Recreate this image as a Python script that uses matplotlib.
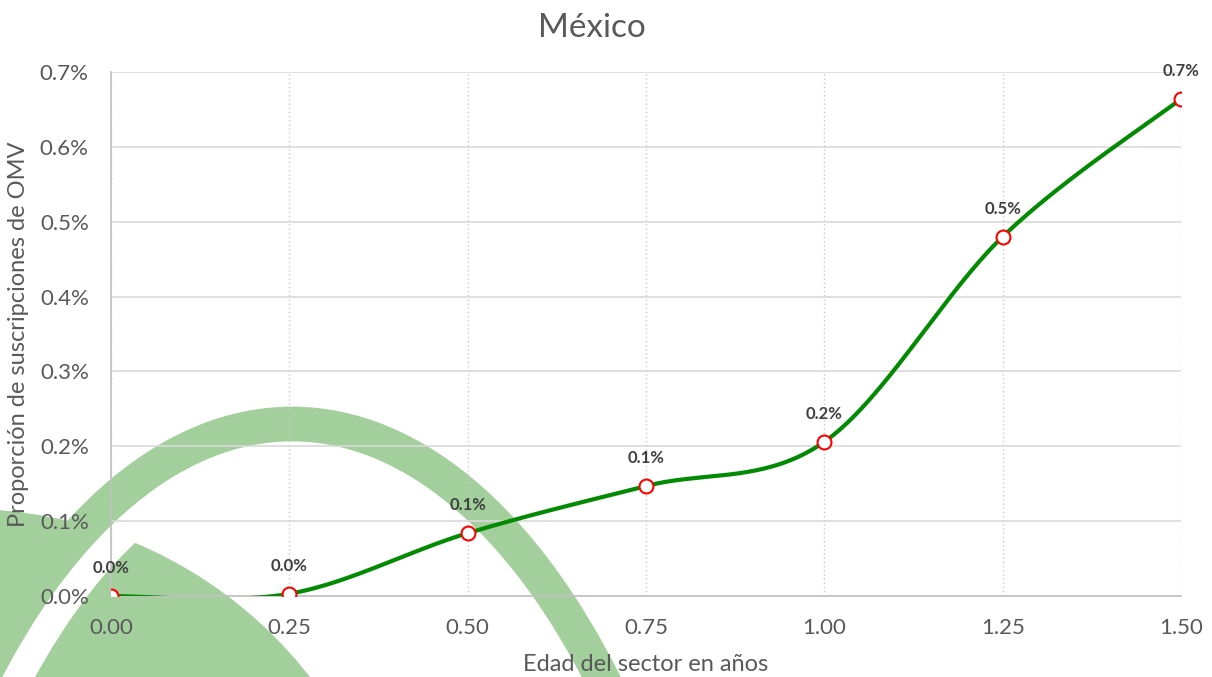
import numpy as np
import matplotlib
matplotlib.use("Agg")
import matplotlib.pyplot as plt
from matplotlib.patches import Circle, Ellipse
from matplotlib.ticker import FuncFormatter

# data (values in percent)
edad = [0.00, 0.25, 0.50, 0.75, 1.00, 1.25, 1.50]
proporcion = [0.000, 0.003, 0.084, 0.147, 0.206, 0.480, 0.664]
x_ticks = [0.00, 0.25, 0.50, 0.75, 1.00, 1.25, 1.50]
y_ticks = [0.0, 0.1, 0.2, 0.3, 0.4, 0.5, 0.6, 0.7]

plt.rcParams['font.family'] = ['Lato', 'DejaVu Sans']
GREY = '#595959'
WM = '#a3cf9c'


def smooth(xs, ys, n=40):
    # excel-like smoothed line: catmull-rom as cubic bezier segments
    p = np.column_stack([xs, ys]).astype(float)
    pts = []
    for i in range(len(p) - 1):
        p0 = p[i - 1] if i > 0 else p[i]
        p3 = p[i + 2] if i + 2 < len(p) else p[i + 1]
        c1 = p[i] + (p[i + 1] - p0) / 6
        c2 = p[i + 1] - (p3 - p[i]) / 6
        t = np.linspace(0, 1, n)[:, None]
        seg = ((1 - t) ** 3) * p[i] + 3 * ((1 - t) ** 2) * t * c1 + 3 * (1 - t) * t ** 2 * c2 + t ** 3 * p[i + 1]
        pts.append(seg if i == 0 else seg[1:])
    pts = np.vstack(pts)
    return pts[:, 0], pts[:, 1]


fig = plt.figure(figsize=(12.12, 6.77), dpi=100)

# watermark in pixel coordinates behind the chart
bg = fig.add_axes([0, 0, 1, 1], zorder=0)
bg.set_xlim(0, 1212)
bg.set_ylim(677, 0)
bg.axis('off')
bg.add_patch(Circle((-33, 943), 434, color=WM, lw=0))
bg.add_patch(Ellipse((292, 1324), 2 * 412, 2 * 867, fill=False, ec='white', lw=22))
bg.add_patch(Ellipse((292, 1324), 2 * 445, 2 * 900, fill=False, ec=WM, lw=25))

ax = fig.add_axes([0.0916, 0.1196, 0.8828, 0.774], zorder=1)
ax.set_facecolor('none')

sx, sy = smooth(edad, proporcion)
ax.plot(sx, sy, color='#038a03', lw=3, zorder=3, solid_capstyle='round')
ax.plot(edad, proporcion, ls='none', marker='o', ms=10, mfc='white', mec='#ff0000', mew=1.5, zorder=4)

for xv, yv in zip(edad, proporcion):
    ax.annotate(f"{yv:.1f}%", (xv, yv), xytext=(0, 20), textcoords='offset points',
                ha='center', va='center', fontsize=12, fontweight='bold', color='#404040')

ax.set_xlim(0, 1.5)
ax.set_ylim(0, 0.7)
ax.set_xticks(x_ticks)
ax.set_yticks(y_ticks)
ax.xaxis.set_major_formatter(FuncFormatter(lambda v, p: f"{v:.2f}"))
ax.yaxis.set_major_formatter(FuncFormatter(lambda v, p: f"{v:.1f}%"))
ax.tick_params(axis='both', length=0, labelsize=16, labelcolor=GREY)
ax.tick_params(axis='x', pad=16)
ax.tick_params(axis='y', pad=16)

ax.grid(axis='y', color='#d9d9d9', lw=1.2, ls='-')
ax.grid(axis='x', color='#c8c8c8', lw=1, ls=(0, (1, 2)))
ax.set_axisbelow(True)
for s in ['top', 'right']:
    ax.spines[s].set_visible(False)
ax.spines['left'].set_color('#bfbfbf')
ax.spines['bottom'].set_color('#bfbfbf')
ax.spines['left'].set_linewidth(1.2)
ax.spines['bottom'].set_linewidth(1.2)

ax.set_xlabel('Edad del sector en años', fontsize=17, color=GREY, labelpad=11)
ax.set_ylabel('Proporción de suscripciones de OMV', fontsize=17, color=GREY, labelpad=8)
fig.text(0.4885, 1 - 28 / 677, 'México', ha='center', va='center', fontsize=24, color=GREY)

fig.savefig('out.png', dpi=100)
